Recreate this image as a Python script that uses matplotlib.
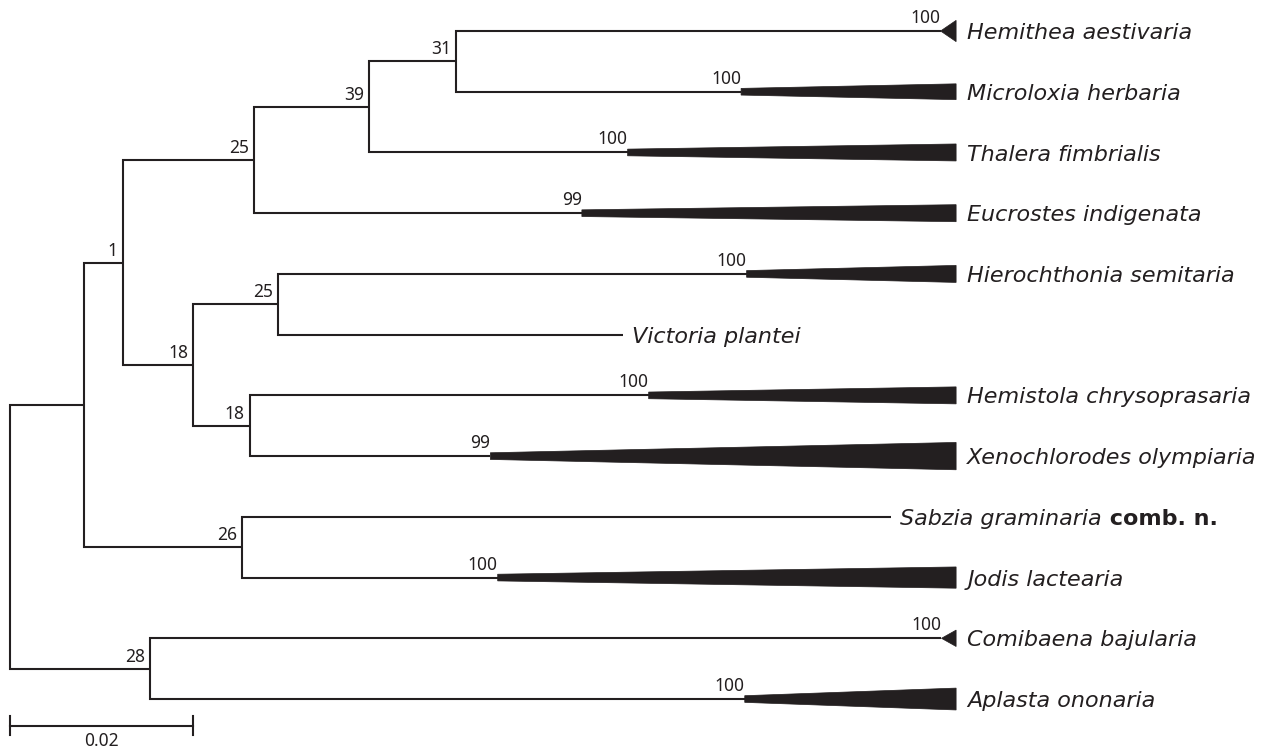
import matplotlib
matplotlib.use('Agg')
import matplotlib.pyplot as plt
from matplotlib.patches import Polygon

# Внутренние узлы: имя, родитель, длина ветви, бутстреп
inner = ['A', 'N28', 'N1', 'N26', 'N25a', 'N18a', 'N39', 'N31', 'N25b', 'N18b']
inner_parent = ['root', 'root', 'A', 'A', 'N1', 'N1', 'N25a', 'N39', 'N18a', 'N18a']
inner_branch = [0.0081, 0.0153, 0.0042, 0.0173, 0.0144, 0.0077, 0.0125, 0.0095, 0.0093, 0.0062]
inner_support = [None, 28, 1, 26, 25, 18, 39, 31, 25, 18]

# Терминалы (сверху вниз)
tips = ['Hemithea aestivaria', 'Microloxia herbaria', 'Thalera fimbrialis',
        'Eucrostes indigenata', 'Hierochthonia semitaria', 'Victoria plantei',
        'Hemistola chrysoprasaria', 'Xenochlorodes olympiaria', 'Sabzia graminaria',
        'Jodis lactearia', 'Comibaena bajularia', 'Aplasta ononaria']
tip_parent = ['N31', 'N31', 'N39', 'N25a', 'N25b', 'N25b', 'N18b', 'N18b',
              'N26', 'N26', 'N28', 'N28']
tip_branch = [0.0530, 0.0312, 0.0283, 0.0358, 0.0512, 0.0377, 0.0436, 0.0263,
              0.0709, 0.0279, 0.0865, 0.0650]
tip_support = [100, 100, 100, 99, 100, None, 100, 99, None, 100, 100, 100]
# свернутые клады: высота треугольника (в строках), 0 = не свернут
clade_spread = [0.35, 0.26, 0.28, 0.28, 0.28, 0, 0.28, 0.45, 0, 0.35, 0.27, 0.36]
clade_end = 0.1034
scale_len = 0.02

col = '#231f20'
name_font = dict(fontsize=16, style='italic', family='DejaVu Sans', color=col)
num_font = dict(fontsize=12.5, family='Noto Sans', color=col)

parent = dict(zip(inner + tips, inner_parent + tip_parent))
blen = dict(zip(inner + tips, inner_branch + tip_branch))

depth = {'root': 0.0}
def get_depth(n):
    if n not in depth:
        depth[n] = get_depth(parent[n]) + blen[n]
    return depth[n]
for n in inner + tips:
    get_depth(n)

ypos = {t: i for i, t in enumerate(tips)}
children = {}
for n in inner + tips:
    children.setdefault(parent[n], []).append(n)
def get_y(n):
    if n not in ypos:
        ys = [get_y(c) for c in children[n]]
        ypos[n] = (min(ys) + max(ys)) / 2
    return ypos[n]
get_y('root')

fig = plt.figure(figsize=(12.77, 7.48), dpi=100)
ax = fig.add_axes([0, 0, 1, 1])

# ветви (уголками)
for n in inner + tips:
    p = parent[n]
    ax.plot([depth[p], depth[p], depth[n]], [ypos[p], ypos[n], ypos[n]],
            color=col, lw=1.5, solid_joinstyle='miter', solid_capstyle='butt')

# бутстреп внутренних узлов
for n, s in zip(inner, inner_support):
    if s is not None:
        ax.annotate(str(s), (depth[n], ypos[n]), xytext=(-3.5, 5),
                    textcoords='offset points', ha='right', va='baseline',
                    **num_font)

# свернутые клады и подписи
for t, s, w in zip(tips, tip_support, clade_spread):
    x0, y0 = depth[t], ypos[t]
    if w > 0:
        hl = 0.055 if clade_end - x0 > 0.005 else 0.0
        ax.add_patch(Polygon([(x0, y0 - hl), (clade_end, y0 - w / 2),
                              (clade_end, y0 + w / 2), (x0, y0 + hl)],
                             closed=True, facecolor=col, edgecolor=col, lw=0.5))
        lx, off = clade_end, 8
    else:
        lx, off = x0, 6.5
    if s is not None:
        ax.annotate(str(s), (x0, y0), xytext=(0, 5.8), textcoords='offset points',
                    ha='right', va='baseline', **num_font)
    txt = ax.annotate(t, (lx, y0), xytext=(off, -5.8), textcoords='offset points',
                      ha='left', va='baseline', **name_font)
    if t == 'Sabzia graminaria':
        ax.annotate(' comb. n.', xy=(1, 0), xycoords=txt, ha='left', va='bottom',
                    fontsize=16, weight='bold', family='DejaVu Sans', color=col)

# масштабная линейка
sy = 11.44
ax.plot([0, scale_len], [sy, sy], color=col, lw=1.5)
for sx in [0, scale_len]:
    ax.plot([sx, sx], [sy - 0.16, sy + 0.16], color=col, lw=1.5)
ax.text(scale_len / 2, sy + 0.1, str(scale_len), ha='center', va='top', **num_font)

ax.set_xlim(-10 / 9150, 1267 / 9150)
ax.set_ylim((748 - 31) / 60.73, -31 / 60.73)
ax.axis('off')

plt.savefig('out.png', dpi=100)
